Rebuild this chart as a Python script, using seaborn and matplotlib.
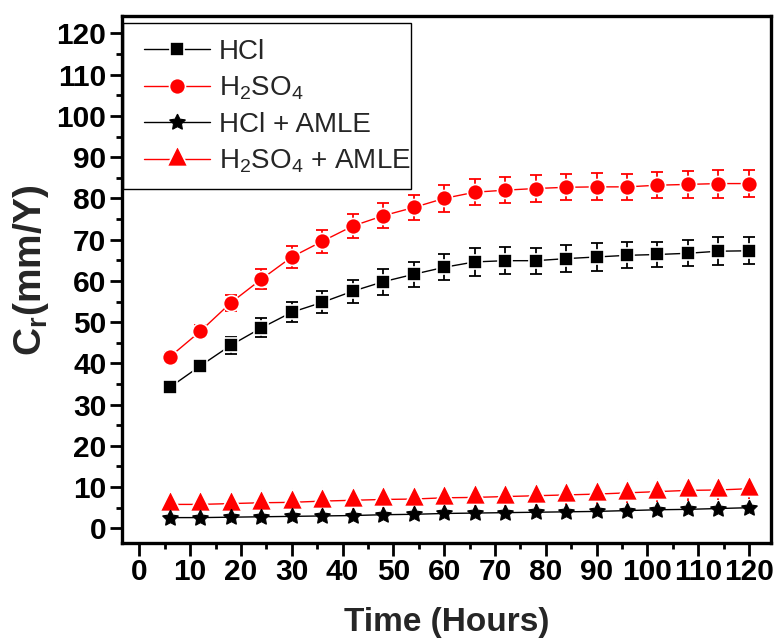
import matplotlib
matplotlib.use("Agg")
import matplotlib.pyplot as plt
import numpy as np
import pandas as pd
import seaborn as sns
from matplotlib.patches import Rectangle
from matplotlib.ticker import MultipleLocator

# Corrosion rate of the steel in 1 M acid, with and without the AMLE inhibitor
time_h = [6, 12, 18, 24, 30, 36, 42, 48, 54, 60,
          66, 72, 78, 84, 90, 96, 102, 108, 114, 120]

hcl = [34.2, 39.4, 44.4, 48.6, 52.4, 54.8, 57.5, 59.8, 61.6, 63.3,
       64.6, 64.9, 64.9, 65.4, 65.8, 66.2, 66.4, 66.7, 67.2, 67.3]
hcl_err = [1.2, 1.5, 2.1, 2.3, 2.4, 2.7, 2.8, 3.1, 3.0, 3.1,
           3.3, 3.2, 3.15, 3.3, 3.3, 3.15, 3.15, 3.2, 3.4, 3.3]

h2so4 = [41.6, 47.8, 54.7, 60.4, 65.8, 69.6, 73.3, 75.8, 77.8, 80.0,
         81.5, 82.0, 82.4, 82.7, 82.8, 82.8, 83.2, 83.4, 83.6, 83.6]
h2so4_err = [1.2, 1.4, 1.9, 2.4, 2.6, 2.8, 2.9, 3.0, 3.1, 3.2,
             3.2, 3.2, 3.3, 3.2, 3.3, 3.2, 3.2, 3.2, 3.4, 3.3]

hcl_amle = [2.6, 2.6, 2.7, 2.8, 2.9, 3.0, 3.1, 3.3, 3.4, 3.6,
            3.7, 3.8, 3.9, 4.0, 4.1, 4.3, 4.5, 4.6, 4.8, 5.0]
hcl_amle_err = [0.3] * 20

h2so4_amle = [5.8, 5.8, 6.0, 6.2, 6.3, 6.6, 6.8, 7.0, 7.1, 7.4,
              7.5, 7.7, 7.9, 8.1, 8.3, 8.6, 8.9, 9.2, 9.3, 9.6]
h2so4_amle_err = [2.5] * 20

labels = ["HCl", "H$_2$SO$_4$", "HCl + AMLE", "H$_2$SO$_4$ + AMLE"]

sns.set_theme(style="ticks")
plt.rcParams["font.family"] = ["Liberation Sans", "DejaVu Sans"]
plt.rcParams["mathtext.default"] = "regular"

fig = plt.figure(figsize=(7.75, 6.42), dpi=100)
ax = fig.add_axes([0.157, 0.1542, 0.8375, 0.8213])

# triangle centred on its centroid
tri = [(0, 1.33), (-1, -0.67), (1, -0.67), (0, 1.33)]
# five-point star with a wide body
star = (5, 1, 0)

series = [
    # label, values, errors, colour, marker, size, edge, capsize, zorder
    (labels[0], hcl, hcl_err, "black", "s", 10.5, "white", 4, 3),
    (labels[1], h2so4, h2so4_err, "#ff0000", "o", 11.5, "white", 4, 3),
    (labels[2], hcl_amle, hcl_amle_err, "black", star, 12, "black", 0, 5),
    (labels[3], h2so4_amle, h2so4_amle_err, "#ff0000", tri, 20, "white", 0, 3),
]

for lab, vals, err, col, mk, ms, mec, cs, z in series:
    df = pd.DataFrame({"Time": time_h, "Cr": vals})
    ax.errorbar(time_h, vals, yerr=err, fmt="none", ecolor=col,
                elinewidth=1.3, capsize=cs, capthick=1.3, zorder=z - 0.5)
    sns.lineplot(data=df, x="Time", y="Cr", color=col, marker=mk,
                 markersize=ms, markeredgecolor=mec,
                 markeredgewidth=1.2 if mec == "white" else 0.8,
                 linewidth=1.0, label=lab, ax=ax, zorder=z)

ax.set_xlim(-3.5, 124.3)
ax.set_ylim(-3.56, 124.3)
ax.xaxis.set_major_locator(MultipleLocator(10))
ax.xaxis.set_minor_locator(MultipleLocator(5))
ax.yaxis.set_major_locator(MultipleLocator(10))
ax.yaxis.set_minor_locator(MultipleLocator(5))

for s in ax.spines.values():
    s.set_linewidth(2.4)
    s.set_color("black")

ax.tick_params(which="major", direction="out", length=9, width=2,
               labelsize=21.5, pad=2, color="black", labelcolor="black")
ax.tick_params(which="minor", direction="out", length=4.5, width=2,
               color="black")
for t in ax.get_xticklabels() + ax.get_yticklabels():
    t.set_fontweight("bold")

ax.set_xlabel("Time (Hours)", fontsize=24, fontweight="bold", labelpad=15)
ax.set_ylabel("C$_\\mathregular{r}$(mm/Y)", fontsize=28, fontweight="bold",
              labelpad=4)
ax.yaxis.label.set_y(0.517)

handles, labs = ax.get_legend_handles_labels()
order = [labs.index(l) for l in labels]
leg = ax.legend([handles[i] for i in order], [labs[i] for i in order],
                loc="upper left", bbox_to_anchor=(0.0174, 0.977),
                borderaxespad=0, fontsize=20, frameon=False,
                borderpad=0.4, handlelength=2.37, handletextpad=0.32,
                labelspacing=0.35, numpoints=1)

# legend box outline
ax.add_patch(Rectangle((0.0025, 0.6713), 0.4433, 0.3154,
                       transform=ax.transAxes, fill=False,
                       edgecolor="black", linewidth=1.0, zorder=6))

fig.savefig("out.png", dpi=100)
